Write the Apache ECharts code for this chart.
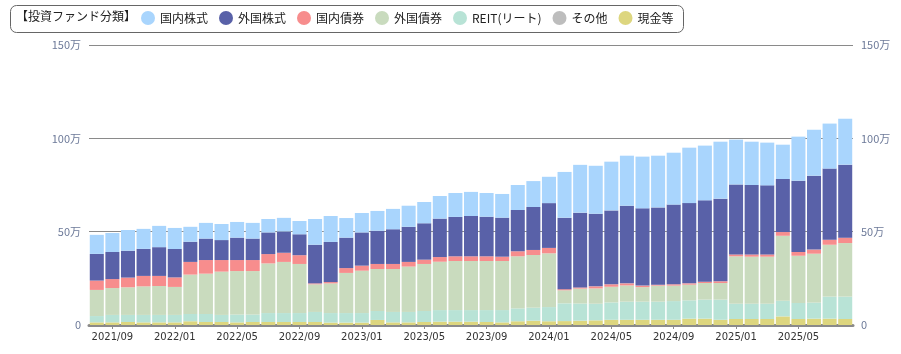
<!DOCTYPE html>
<html>
<head>
<meta charset="utf-8">
<script src="https://cdn.jsdelivr.net/npm/echarts@6/dist/echarts.min.js"></script>
<style>
  html, body { margin: 0; padding: 0; background: #fff; }
  #charts { width: 901px; height: 354px; }
</style>
</head>
<body>
<div id="charts"></div>
<script>
// 単位: 万円
const months = [
  "2021/08", "2021/09", "2021/10", "2021/11", "2021/12",
  "2022/01", "2022/02", "2022/03", "2022/04", "2022/05", "2022/06", "2022/07",
  "2022/08", "2022/09", "2022/10", "2022/11", "2022/12",
  "2023/01", "2023/02", "2023/03", "2023/04", "2023/05", "2023/06", "2023/07",
  "2023/08", "2023/09", "2023/10", "2023/11", "2023/12",
  "2024/01", "2024/02", "2024/03", "2024/04", "2024/05", "2024/06", "2024/07",
  "2024/08", "2024/09", "2024/10", "2024/11", "2024/12",
  "2025/01", "2025/02", "2025/03", "2025/04", "2025/05", "2025/06", "2025/07",
  "2025/08"
];

const domesticStock = [10.2, 10.2, 11.1, 10.7, 11.4, 11.3, 8.0, 8.4, 8.6, 8.4, 8.4, 7.2, 7.3, 7.1, 13.8, 13.9, 10.5, 10.4, 10.6, 10.9, 11.3, 11.4, 12.1, 12.8, 12.9, 12.7, 12.7, 13.4, 13.9, 14.1, 24.5, 25.6, 25.7, 26.1, 26.8, 27.7, 27.7, 27.8, 29.7, 29.3, 30.5, 24.0, 23.2, 22.9, 18.4, 23.6, 24.6, 24.1, 24.6];
const foreignStock = [14.3, 14.5, 14.4, 14.5, 15.4, 15.2, 10.8, 11.5, 10.7, 12.0, 11.5, 11.6, 11.4, 11.2, 20.7, 21.5, 16.3, 17.8, 17.8, 18.6, 18.8, 19.5, 20.6, 21.1, 21.6, 21.2, 20.9, 22.1, 23.0, 24.0, 38.3, 40.1, 38.9, 39.6, 41.6, 41.4, 41.4, 42.7, 43.0, 43.6, 44.3, 37.5, 37.2, 37.0, 28.4, 38.2, 39.6, 38.1, 39.1];
const domesticBond = [5.0, 4.8, 5.2, 5.6, 5.4, 5.1, 6.8, 7.3, 6.2, 5.9, 5.9, 5.0, 4.9, 4.7, 0.5, 0.7, 2.6, 2.7, 2.7, 2.7, 2.5, 2.3, 2.5, 2.5, 2.5, 2.5, 2.3, 2.7, 2.7, 2.9, 0.6, 0.6, 1.1, 1.3, 1.1, 0.8, 0.5, 0.7, 0.7, 0.7, 0.9, 1.0, 1.2, 1.2, 2.0, 2.0, 2.2, 2.7, 2.9];
const foreignBond = [14.0, 14.4, 14.8, 15.3, 15.5, 15.0, 21.1, 21.6, 23.2, 23.3, 23.3, 26.6, 27.4, 26.3, 14.8, 15.9, 21.5, 22.7, 22.5, 23.0, 24.3, 25.2, 25.9, 26.3, 26.3, 26.3, 26.3, 27.9, 28.2, 28.8, 7.0, 8.0, 8.2, 8.4, 8.7, 7.8, 8.6, 8.3, 8.4, 8.9, 8.9, 25.4, 25.2, 25.2, 34.8, 25.3, 26.2, 27.8, 28.7];
const reit = [3.4, 4.0, 3.8, 4.0, 4.0, 4.0, 3.9, 4.3, 3.8, 4.2, 4.0, 4.8, 4.8, 4.8, 5.4, 5.1, 5.1, 5.1, 4.8, 5.6, 5.6, 5.9, 6.2, 6.2, 6.2, 6.4, 6.6, 6.9, 7.0, 7.6, 9.5, 9.2, 8.9, 9.3, 9.7, 9.7, 9.7, 10.0, 9.8, 10.2, 10.8, 8.2, 8.2, 8.2, 8.4, 8.6, 8.6, 11.8, 12.0];
const others = [0, 0, 0, 0, 0, 0, 0, 0, 0, 0, 0, 0, 0, 0, 0, 0, 0, 0, 0, 0, 0, 0, 0, 0, 0, 0, 0, 0, 0, 0, 0, 0, 0, 0, 0, 0, 0, 0, 0, 0, 0, 0, 0, 0, 0, 0, 0, 0, 0];
const cash = [1.4, 1.4, 1.6, 1.4, 1.4, 1.4, 2.0, 1.6, 1.6, 1.4, 1.6, 1.6, 1.6, 1.6, 1.6, 1.3, 1.3, 1.3, 2.7, 1.4, 1.4, 1.6, 1.8, 1.8, 1.8, 1.6, 1.4, 2.0, 2.3, 2.0, 2.1, 2.3, 2.5, 2.8, 2.8, 2.8, 2.8, 2.8, 3.4, 3.4, 2.8, 3.2, 3.2, 3.2, 4.6, 3.2, 3.4, 3.4, 3.2];

const yTicks = { min: 0, max: 150, interval: 50 };
const legendTitle = "【投資ファンド分類】";

let chartDom = document.getElementById("charts");
let myChart = echarts.init(chartDom);
let font = '"Noto Sans CJK JP", "Noto Sans", sans-serif';

function yAxisOf(pos) {
  return {
    type: "value",
    position: pos,
    min: yTicks.min,
    max: yTicks.max,
    interval: yTicks.interval,
    axisLine: { show: false },
    axisTick: { show: false },
    axisLabel: {
      color: "#6d7a99",
      fontSize: 11,
      fontFamily: font,
      margin: 8,
      formatter: function (v) {
        return v === 0 ? "0" : v + "万";
      },
    },
    splitLine: {
      show: pos === "left",
      lineStyle: { color: "#8a8a8a", width: 1 },
    },
  };
}

function barSeries(name, data, color) {
  return {
    name: name,
    type: "bar",
    stack: "Total",
    barCategoryGap: "10%",
    data: data,
    itemStyle: { color: color },
    emphasis: { disabled: true },
  };
}

let option = {
  animation: false,
  textStyle: { fontFamily: font },
  // 凡例の枠とタイトル
  graphic: [
    {
      type: "rect",
      left: 10,
      top: 5,
      shape: { width: 673, height: 27, r: 6 },
      style: { fill: "#fff", stroke: "#666", lineWidth: 1 },
      z: -1,
    },
    {
      type: "text",
      left: 16,
      top: 10,
      style: { text: legendTitle, font: '12px "Noto Sans CJK JP"', fill: "#222" },
    },
  ],
  legend: {
    left: 141,
    top: 11,
    padding: 0,
    itemGap: 11,
    itemWidth: 14,
    itemHeight: 14,
    selectedMode: false,
    textStyle: { fontSize: 12, color: "#222", fontFamily: font },
    data: [
      { name: "国内株式", icon: "circle" },
      { name: "外国株式", icon: "circle" },
      { name: "国内債券", icon: "circle" },
      { name: "外国債券", icon: "circle" },
      { name: "REIT(リート)", icon: "circle" },
      { name: "その他", icon: "circle" },
      { name: "現金等", icon: "circle" },
    ],
  },
  grid: {
    left: 89,
    right: 48,
    top: 45,
    bottom: 29,
  },
  xAxis: {
    type: "category",
    data: months,
    axisLine: { show: true, lineStyle: { color: "#8a8a8a", width: 3 } },
    axisTick: {
      show: true,
      alignWithLabel: true,
      length: 4,
      interval: function (i) { return i % 4 === 1; },
      lineStyle: { color: "#8a8a8a" },
    },
    axisLabel: {
      color: "#333",
      fontSize: 10,
      fontFamily: "DejaVu Sans, sans-serif",
      margin: 7,
      interval: function (i) { return i % 4 === 1; },
    },
  },
  yAxis: [yAxisOf("left"), yAxisOf("right")],
  series: [
    barSeries("現金等", cash, "#ddd67f"),
    barSeries("その他", others, "#bdbdbd"),
    barSeries("REIT(リート)", reit, "#b8e3d6"),
    barSeries("外国債券", foreignBond, "#c9dbbe"),
    barSeries("国内債券", domesticBond, "#f78d8d"),
    barSeries("外国株式", foreignStock, "#5961a8"),
    barSeries("国内株式", domesticStock, "#a9d5fd"),
  ],
};

option && myChart.setOption(option);
</script>
</body>
</html>
